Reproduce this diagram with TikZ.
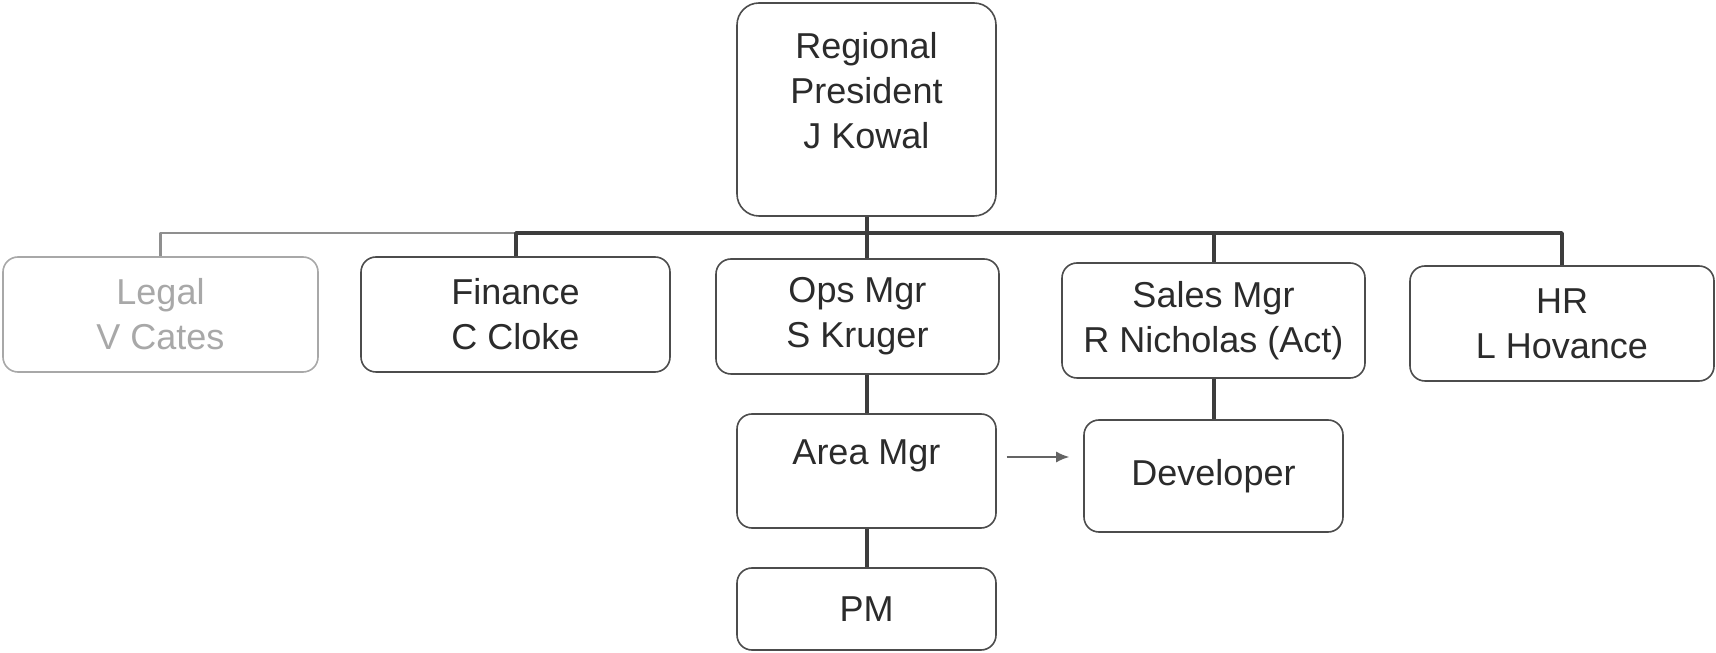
\documentclass[tikz,border=0pt]{standalone}
\usepackage{fontspec}
\setmainfont{Liberation Sans}
\usetikzlibrary{arrows,arrows.meta,positioning}
\definecolor{boxcol}{rgb}{0.30,0.30,0.30}
\definecolor{textcol}{rgb}{0.17,0.17,0.17}
\definecolor{linkcol}{rgb}{0.24,0.24,0.24}
\definecolor{fadecol}{rgb}{0.66,0.66,0.66}
\begin{document}
\begin{tikzpicture}[>=latex',line join=bevel,
    unit/.style={draw=boxcol, line width=1.6bp, rounded corners=15bp, fill=white,
      align=center, text=textcol, inner sep=0pt,
      font=\fontsize{36bp}{45bp}\selectfont},
    faded/.style={draw=fadecol, text=fadecol},
    link/.style={draw=linkcol, line width=4bp},
    fadelink/.style={draw=fadecol!85!black, line width=2.4bp}]
  \useasboundingbox (0bp,0bp) rectangle (1716bp,653bp);
  \coordinate (bus) at (866.5bp,420bp);
  %%
    % Node: pres
  \node[unit, rounded corners=22bp, minimum width=259bp, minimum height=213bp,
    text height=116bp, text depth=38bp] (pres) at (866.5bp,543.5bp)
    {Regional\\President\\J Kowal};
    % Node: legal
  \node[unit, faded, minimum width=315bp, minimum height=115bp] (legal) at (160.5bp,338.5bp)
    {Legal\\V Cates};
    % Node: fin
  \node[unit, minimum width=309bp, minimum height=115bp] (fin) at (515.5bp,338.5bp)
    {Finance\\C Cloke};
    % Node: ops
  \node[unit, minimum width=283bp, minimum height=115bp] (ops) at (857.5bp,336.5bp)
    {Ops Mgr\\S Kruger};
    % Node: sales
  \node[unit, minimum width=303bp, minimum height=115bp] (sales) at (1213.5bp,332.5bp)
    {Sales Mgr\\R Nicholas (Act)};
    % Node: hr
  \node[unit, minimum width=304bp, minimum height=115bp] (hr) at (1562bp,329.5bp)
    {HR\\L Hovance};
    % Node: area
  \node[unit, minimum width=259bp, minimum height=114bp,
    text height=27bp, text depth=39bp] (area) at (866.5bp,182bp)
    {Area Mgr};
    % Node: pm
  \node[unit, minimum width=259bp, minimum height=82bp] (pm) at (866.5bp,44bp)
    {PM};
    % Node: dev
  \node[unit, minimum width=259bp, minimum height=112bp] (dev) at (1213.5bp,177bp)
    {Developer};
  \coordinate (tip) at ([yshift=14bp]area.east -| dev.west);
  %%
  \begin{scope}[on background layer/.try]
    % Edge: pres -> legal
    \draw[fadelink] (fin.north |- bus) -| (legal.north);
    % Edge: pres -> fin
    \draw[link] (pres.south) |- (bus) -| (fin.north);
    % Edge: pres -> ops
    \draw[link] (bus) -| (ops.north -| bus);
    % Edge: pres -> sales
    \draw[link] (bus) -| (sales.north);
    % Edge: pres -> hr
    \draw[link] (bus) -| (hr.north);
    % Edge: ops -> area
    \draw[link] (ops.south -| area.north) -- (area.north);
    % Edge: area -> pm
    \draw[link] (area.south) -- (pm.north);
    % Edge: sales -> dev
    \draw[link] (sales.south) -- (dev.north);
  \end{scope}
    % Edge: area -> dev
    \draw[-{Latex[length=13bp,width=11bp]}, draw=linkcol!80, fill=linkcol!80, line width=1.5bp]
      ([xshift=10bp,yshift=14bp]area.east) -- ([xshift=-14bp]tip);
  %
\end{tikzpicture}
\end{document}
